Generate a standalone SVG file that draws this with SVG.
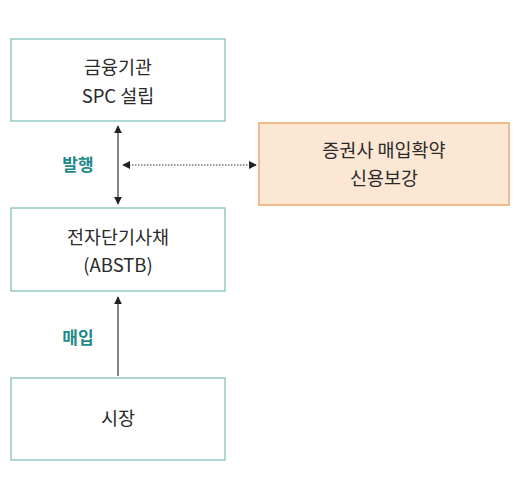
<svg xmlns="http://www.w3.org/2000/svg" width="522" height="500" viewBox="0 0 522 500">
<style>
.box{fill:#fff;stroke:#7cbcb8;stroke-width:1.2}
.obox{fill:#fce6d4;stroke:#f2a66c;stroke-width:1.5}
.t{font-family:"Noto Sans CJK KR","Noto Sans",sans-serif;font-size:18.5px;fill:#2a2a2a;text-anchor:middle}
.lbl{font-family:"Noto Sans CJK KR","Noto Sans",sans-serif;font-size:17px;font-weight:bold;fill:#1f8a88;text-anchor:middle}
.ln{stroke:#333;stroke-width:1.2;fill:none}
</style>
<defs>
<marker id="ah" viewBox="0 0 10 10" refX="9" refY="5" markerWidth="8" markerHeight="8" markerUnits="userSpaceOnUse" orient="auto-start-reverse">
<path d="M0,0 L10,5 L0,10 z" fill="#222"/>
</marker>
</defs>
<g id="n1"><rect class="box" x="11" y="39" width="214" height="82"/><text class="t" x="118" y="74">금융기관</text><text class="t" x="118" y="103">SPC 설립</text></g>
<g id="n2"><rect class="box" x="11" y="208" width="214" height="83"/><text class="t" x="118" y="244">전자단기사채</text><text class="t" x="118" y="272">(ABSTB)</text></g>
<g id="n3"><rect class="box" x="11" y="378" width="214" height="82"/><text class="t" x="118" y="425">시장</text></g>
<g id="n4"><rect class="obox" x="259" y="123" width="250" height="82"/><text class="t" x="384" y="157">증권사 매입확약</text><text class="t" x="384" y="185">신용보강</text></g>
<g id="edges">
<line class="ln" x1="118" y1="126" x2="118" y2="204" marker-start="url(#ah)" marker-end="url(#ah)"/>
<line class="ln" x1="123" y1="165" x2="256" y2="165" stroke-dasharray="1.5,1.5" marker-start="url(#ah)" marker-end="url(#ah)"/>
<line class="ln" x1="118" y1="376" x2="118" y2="297" marker-end="url(#ah)"/>
<text class="lbl" x="78" y="171">발행</text>
<text class="lbl" x="78" y="344">매입</text>
</g>
</svg>
